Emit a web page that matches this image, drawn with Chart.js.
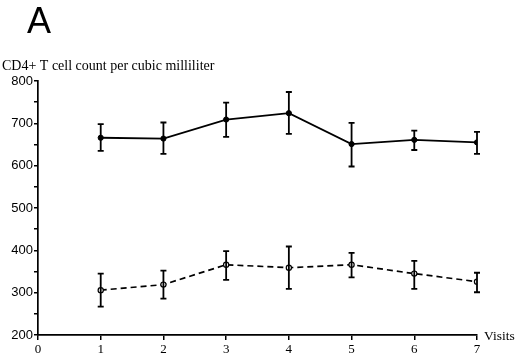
<!DOCTYPE html>
<html>
<head>
<meta charset="utf-8">
<script src="https://cdn.jsdelivr.net/npm/chart.js@4"></script>
<style>
    html, body { margin: 0; padding: 0; background: #fff; }
    #wrap { position: relative; width: 520px; height: 359px; }
</style>
</head>
<body>
<div id="wrap"><canvas id="cd4Chart" width="520" height="359"></canvas></div>
<script>
// values
const visits = [1, 2, 3, 4, 5, 6, 7];
const upperMean = [666, 664, 709, 724, 651, 661, 655];
const upperHigh = [698, 702, 749, 774, 701, 683, 680];
const upperLow = [635, 628, 668, 675, 598, 637, 628];
const lowerMean = [306, 319, 366, 359, 366, 345, 326];
const lowerHigh = [345, 352, 398, 409, 394, 375, 347];
const lowerLow = [267, 286, 330, 309, 336, 309, 301];

const xTicks = [0, 1, 2, 3, 4, 5, 6, 7];
const yMin = 200, yMax = 800;

const serif = "'Liberation Serif', 'DejaVu Serif', serif";
const sans = "'Liberation Sans', Arial, sans-serif";

function toPoints(ys) {
    return visits.map((v, i) => ({ x: v, y: ys[i] }));
}

// error bars drawn through the scales
const errorBars = {
    id: 'errorBars',
    afterDatasetsDraw(chart) {
        const ctx = chart.ctx;
        const xs = chart.scales.x, ys = chart.scales.y;
        const sets = [[upperLow, upperHigh], [lowerLow, lowerHigh]];
        ctx.save();
        ctx.strokeStyle = '#000';
        ctx.lineWidth = 1.8;
        sets.forEach(([lo, hi]) => {
            visits.forEach((v, i) => {
                const px = xs.getPixelForValue(v);
                const top = ys.getPixelForValue(hi[i]);
                const bot = ys.getPixelForValue(lo[i]);
                ctx.beginPath();
                ctx.moveTo(px, top); ctx.lineTo(px, bot);
                ctx.moveTo(px - 3, top); ctx.lineTo(px + 3, top);
                ctx.moveTo(px - 3, bot); ctx.lineTo(px + 3, bot);
                ctx.stroke();
            });
        });
        ctx.restore();
    },
    afterDraw(chart) {
        const ctx = chart.ctx;
        const area = chart.chartArea;
        ctx.save();
        ctx.fillStyle = '#000';
        ctx.textBaseline = 'alphabetic';
        ctx.textAlign = 'left';
        ctx.font = '36px ' + sans;
        ctx.fillText('A', 27, 33);
        ctx.font = '14px ' + serif;
        ctx.fillText('CD4+ T cell count per cubic milliliter', 2, 70);
        ctx.font = '13.5px ' + serif;
        ctx.fillText('Visits', 484, area.bottom + 5);
        ctx.restore();
    }
};

new Chart(document.getElementById('cd4Chart'), {
    type: 'line',
    data: {
        datasets: [{
            data: toPoints(upperMean),
            borderColor: '#000',
            borderWidth: 1.8,
            pointRadius: 2.6,
            pointBackgroundColor: '#000',
            pointBorderColor: '#000',
            pointBorderWidth: 1,
            tension: 0
        }, {
            data: toPoints(lowerMean),
            borderColor: '#000',
            borderWidth: 1.7,
            borderDash: [6, 4],
            pointRadius: 2.6,
            pointBackgroundColor: '#fff',
            pointBorderColor: '#000',
            pointBorderWidth: 1.2,
            tension: 0
        }]
    },
    options: {
        responsive: false,
        animation: false,
        layout: { padding: { top: 81, right: 43, left: 0, bottom: 0 } },
        plugins: {
            legend: { display: false },
            tooltip: { enabled: false }
        },
        scales: {
            x: {
                type: 'linear',
                min: 0,
                max: 7,
                afterBuildTicks(scale) {
                    scale.ticks = xTicks.map(v => ({ value: v }));
                },
                afterFit(scale) { scale.height = 24; },
                grid: { drawOnChartArea: false, drawTicks: true, tickLength: 5, color: '#000', lineWidth: 1.5 },
                border: { display: true, color: '#000', width: 1.7 },
                ticks: { color: '#000', font: { family: serif, size: 13 }, padding: 2, maxRotation: 0 }
            },
            y: {
                min: yMin,
                max: yMax,
                afterFit(scale) { scale.width = 38; },
                grid: { drawOnChartArea: false, drawTicks: true, tickLength: 4, color: '#000', lineWidth: 1.5 },
                border: { display: true, color: '#000', width: 1.7 },
                ticks: {
                    stepSize: 50,
                    color: '#000',
                    font: { family: sans, size: 13 },
                    padding: 1,
                    callback: v => (v % 100 === 0 ? v : '')
                }
            }
        }
    },
    plugins: [errorBars]
});
</script>
</body>
</html>
